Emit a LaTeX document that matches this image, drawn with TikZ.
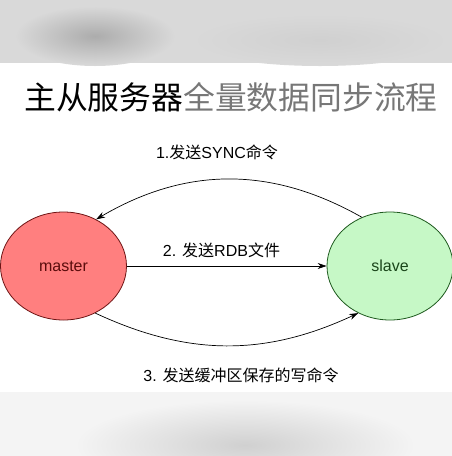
\documentclass[tikz,border=0pt]{standalone}
\usepackage{fontspec}
\setmainfont{Liberation Sans}
\newfontfamily\cjk{Noto Sans CJK SC}
\usetikzlibrary{shapes.geometric,arrows.meta}

\definecolor{bandtop}{HTML}{D9D9D9}
\definecolor{bandblob}{HTML}{ACACAC}
\definecolor{bandlow}{HTML}{F4F4F4}
\definecolor{bandlowblob}{HTML}{D0D0D0}
\definecolor{titlegray}{HTML}{777777}
\definecolor{masterfill}{HTML}{FF7F7F}
\definecolor{masterline}{HTML}{6E1414}
\definecolor{mastertext}{HTML}{5A0C0C}
\definecolor{slavefill}{HTML}{C6F8C6}
\definecolor{slaveline}{HTML}{1E5A1E}
\definecolor{slavetext}{HTML}{1A461A}

\tikzset{
  server/.style={ellipse, draw, line width=0.8pt, minimum width=126pt,
    minimum height=108pt, inner sep=0pt, font=\fontsize{16}{16}\selectfont},
  steplabel/.style={font=\fontsize{16}{16}\selectfont, inner sep=1pt},
  flow/.style={line width=0.7pt, -{Stealth[length=9pt,width=6pt]}}
}

\begin{document}
\begin{tikzpicture}[x=1pt,y=-1pt]
        \useasboundingbox (0,0) rectangle (452,456);

        % Blurred bands at top and bottom
        \fill[bandtop] (0,0) rectangle (452,63);
        \shade[inner color=bandblob, outer color=bandtop] (95,36) ellipse (80 and 30);
        \shade[inner color=bandtop!80!bandblob, outer color=bandtop] (320,40) ellipse (130 and 26);
        \fill[bandlow] (0,392) rectangle (452,456);
        \shade[inner color=bandlowblob, outer color=bandlow] (245,445) ellipse (170 and 45);

        % Title
        \node[font=\cjk\fontsize{31.8}{32}\selectfont, inner sep=0pt] (title) at (231,97)
            {\textcolor{black}{主从服务器}\textcolor{titlegray}{全量数据同步流程}};

        % Servers
        \node[server, fill=masterfill, draw=masterline, text=mastertext] (master) at (63.5,266) {master};
        \node[server, fill=slavefill, draw=slaveline, text=slavetext] (slave) at (390,266) {slave};

        % Steps
        \draw[flow] (slave.120) to[bend right=30] (master.55);
        \draw[flow] (master.east) -- (slave.west);
        \draw[flow] (master.-56) to[bend right=25] (slave.236);

        % Step labels
        \node[steplabel] (sync) at (217,152) {1.{\cjk 发送}SYNC{\cjk 命令}};
        \node[steplabel] (rdb) at (221.5,250) {2. {\cjk 发送}RDB{\cjk 文件}};
        \node[steplabel] (buffer) at (241,375) {3. {\cjk 发送缓冲区保存的写命令}};
    \end{tikzpicture}
\end{document}
